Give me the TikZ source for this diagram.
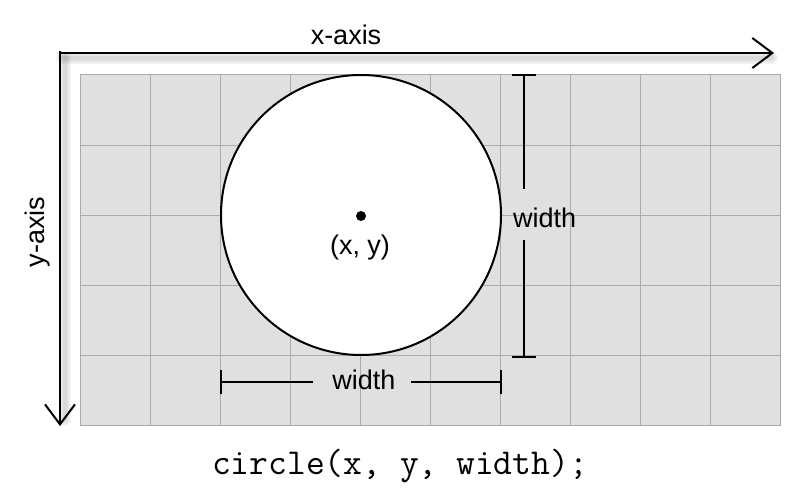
\documentclass[tikz,border=0pt]{standalone}
\usepackage{fontspec}
\setmainfont{Liberation Sans}
\usetikzlibrary{arrows.meta}
\tikzset{
  gridline/.style={draw=black!33, line width=1pt},
  axisline/.style={draw=black, line width=2pt, -{Straight Barb[length=20pt,width=30pt,line width=2pt]}},
  shadowline/.style={draw=black, line width=#1, opacity=0.05, line cap=round},
  dimline/.style={draw=black, line width=2pt},
  lbl/.style={font=\fontsize{27}{30}\selectfont, inner sep=0pt, text=black},
}
\begin{document}
\begin{tikzpicture}[x=1pt,y=-1pt]
\useasboundingbox (0,0) rectangle (800,500);
\fill[white] (0,0) rectangle (800,500);
% axis shadows
\foreach \w in {4,8,12}{
  \draw[shadowline=\w pt] (62,58) -- (772,58);
  \draw[shadowline=\w pt] (65,58) -- (65,420);
}
% grid
\fill[black!12] (80,75) rectangle (780,425);
\foreach \i in {1,...,9} \draw[gridline] (80+70*\i,75) -- (80+70*\i,425);
\foreach \j in {1,...,4} \draw[gridline] (80,75+70*\j) -- (780,75+70*\j);
\draw[gridline] (80,75) rectangle (780,425);
% circle
\node[circle, draw=black, fill=white, line width=2pt, minimum size=280pt, inner sep=0pt] (circ) at (361,215) {};
\node[circle, fill=black, minimum size=10pt, inner sep=0pt] (ctr) at (361,216) {};
\node[lbl] (xy) at (360,248) {(x, y)};
% axes
\coordinate (origin) at (60,53);
\coordinate (xend) at (774,53);
\coordinate (yend) at (60,426);
\draw[axisline, line cap=butt] (origin) -- (xend);
\draw[axisline] (origin) -- (yend);
\draw[black, line width=2pt] (59,52) -- (61,52);
\node[lbl] (xlab) at (346,35) {x-axis};
\node[lbl, rotate=90] (ylab) at (38,232) {y-axis};
% vertical width
\coordinate (vt) at (524,75);
\coordinate (vb) at (524,357);
\coordinate (vg1) at (524,189);
\coordinate (vg2) at (524,240);
\draw[dimline] (vt) -- (vg1);
\draw[dimline] (vg2) -- (vb);
\draw[dimline] ([xshift=-12pt]vt) -- ([xshift=12pt]vt);
\draw[dimline] ([xshift=-12pt]vb) -- ([xshift=12pt]vb);
\node[lbl, anchor=west] (wv) at (513,218) {width};
% horizontal width
\coordinate (hl) at (221,382);
\coordinate (hr) at (501,382);
\coordinate (hg1) at (313,382);
\coordinate (hg2) at (411,382);
\draw[dimline] (hl) -- (hg1);
\draw[dimline] (hg2) -- (hr);
\draw[dimline] ([yshift=-12pt]hl) -- ([yshift=12pt]hl);
\draw[dimline] ([yshift=-12pt]hr) -- ([yshift=12pt]hr);
\node[lbl] (wh) at (364,380) {width};
% code
\node[font=\ttfamily\fontsize{36.5}{40}\selectfont, inner sep=0pt] (code) at (400,466) {circle(x, y, width);};
\end{tikzpicture}
\end{document}
